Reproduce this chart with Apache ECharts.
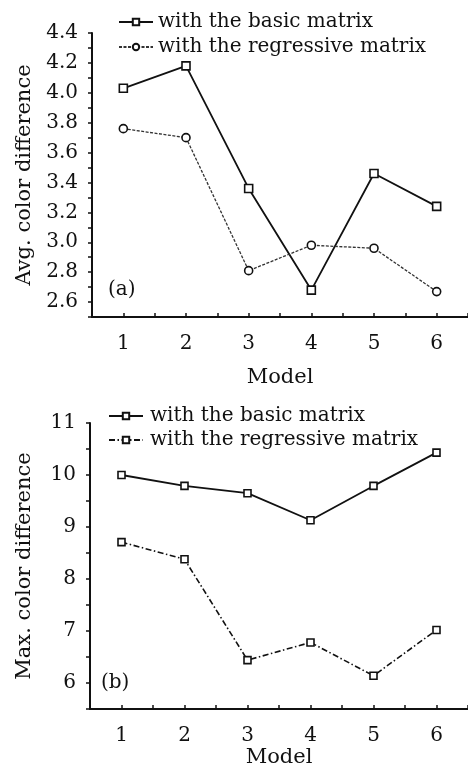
<!DOCTYPE html>
<html>
<head>
<meta charset="utf-8">
<script src="https://cdn.jsdelivr.net/npm/echarts@6/dist/echarts.min.js"></script>
<style>
html, body { margin: 0; padding: 0; background: #fff; overflow: hidden; }
#chart { width: 468px; height: 774px; }
</style>
</head>
<body>
<div id="chart"></div>
<script>
var models = [1, 2, 3, 4, 5, 6]
var avgBasic = [4.03, 4.18, 3.36, 2.68, 3.46, 3.24]
var avgRegressive = [3.76, 3.70, 2.81, 2.98, 2.96, 2.67]
var maxBasic = [10.0, 9.79, 9.65, 9.13, 9.79, 10.43]
var maxRegressive = [8.71, 8.38, 6.44, 6.78, 6.14, 7.02]
var avgTicks = ['2.6', '2.8', '3.0', '3.2', '3.4', '3.6', '3.8', '4.0', '4.2', '4.4']
var maxTicks = ['6', '7', '8', '9', '10', '11']
var modelTicks = ['1', '2', '3', '4', '5', '6']
var legendNames = {
  aBasic: 'with the basic matrix',
  aReg: 'with the regressive matrix',
  bBasic: 'with the basic matrix',
  bReg: 'with the regressive matrix'
}

var FONT = 'DejaVu Serif'
var INK = '#111'

function pairs (ys) {
  return models.map(function (m, i) { return [m, ys[i]] })
}

function xAxis (gridIndex, nameGap) {
  return {
    gridIndex: gridIndex,
    type: 'value',
    min: 0.5,
    max: 6.5,
    interval: 0.5,
    name: 'Model',
    nameLocation: 'middle',
    nameGap: nameGap,
    nameTextStyle: { fontFamily: FONT, fontSize: 21, color: INK },
    axisLine: { lineStyle: { color: INK, width: 2 } },
    axisTick: { inside: true, length: 4, lineStyle: { color: INK, width: 1.5 } },
    axisLabel: {
      fontFamily: FONT, fontSize: 20, color: INK, margin: 17,
      formatter: function (v) {
        var s = String(v)
        return modelTicks.indexOf(s) >= 0 ? s : ''
      }
    },
    splitLine: { show: false }
  }
}

var chart = echarts.init(document.getElementById('chart'))
chart.setOption({
  animation: false,
  backgroundColor: '#fff',
  title: [
    { text: '(a)', left: 103, top: 275, textStyle: { fontFamily: FONT, fontSize: 20, fontWeight: 'normal', color: INK } },
    { text: '(b)', left: 96, top: 668, textStyle: { fontFamily: FONT, fontSize: 20, fontWeight: 'normal', color: INK } }
  ],
  legend: [
    {
      data: ['aBasic', 'aReg'],
      orient: 'vertical',
      left: 118,
      top: 12,
      padding: 0,
      itemWidth: 34,
      itemHeight: 8,
      itemGap: 5,
      formatter: function (n) { return legendNames[n] },
      textStyle: { fontFamily: FONT, fontSize: 20, color: INK },
      selectedMode: false
    },
    {
      data: ['bBasic', 'bReg'],
      orient: 'vertical',
      left: 108,
      top: 406,
      padding: 0,
      itemWidth: 34,
      itemHeight: 8,
      itemGap: 4,
      formatter: function (n) { return legendNames[n] },
      textStyle: { fontFamily: FONT, fontSize: 20, color: INK, padding: [0, 0, 0, 2] },
      selectedMode: false
    }
  ],
  grid: [
    { left: 92, width: 376, top: 33, height: 284, outerBoundsMode: 'none' },
    { left: 90, width: 378, top: 423, height: 286, outerBoundsMode: 'none' }
  ],
  xAxis: [xAxis(0, 50), xAxis(1, 38)],
  yAxis: [
    {
      gridIndex: 0,
      type: 'value',
      min: 2.5,
      max: 4.4,
      interval: 0.1,
      name: 'Avg. color difference',
      nameLocation: 'middle',
      nameGap: 57,
      nameTextStyle: { fontFamily: FONT, fontSize: 21, color: INK },
      axisLine: { show: true, lineStyle: { color: INK, width: 2 } },
      axisTick: { show: true, length: 4, lineStyle: { color: INK, width: 1.5 } },
      axisLabel: {
        fontFamily: FONT, fontSize: 20, color: INK, margin: 14,
        formatter: function (v) {
          var s = v.toFixed(1)
          return avgTicks.indexOf(s) >= 0 ? s : ''
        }
      },
      splitLine: { show: false }
    },
    {
      gridIndex: 1,
      type: 'value',
      min: 5.5,
      max: 11,
      interval: 0.5,
      name: 'Max. color difference',
      nameLocation: 'middle',
      nameGap: 55,
      nameTextStyle: { fontFamily: FONT, fontSize: 21, color: INK },
      axisLine: { show: true, lineStyle: { color: INK, width: 2 } },
      axisTick: { show: true, length: 4, lineStyle: { color: INK, width: 1.5 } },
      axisLabel: {
        fontFamily: FONT, fontSize: 20, color: INK, margin: 14,
        formatter: function (v) {
          var s = String(v)
          return maxTicks.indexOf(s) >= 0 ? s : ''
        }
      },
      splitLine: { show: false }
    }
  ],
  series: [
    {
      name: 'aBasic', type: 'line', xAxisIndex: 0, yAxisIndex: 0,
      data: pairs(avgBasic),
      symbol: 'rect', symbolSize: 8,
      itemStyle: { color: '#fff', borderColor: INK, borderWidth: 1.6 },
      lineStyle: { color: INK, width: 1.8, type: 'solid' }
    },
    {
      name: 'aReg', type: 'line', xAxisIndex: 0, yAxisIndex: 0,
      data: pairs(avgRegressive),
      symbol: 'circle', symbolSize: 8,
      itemStyle: { color: '#fff', borderColor: INK, borderWidth: 1.6 },
      lineStyle: { color: '#333', width: 1.3, type: [3, 1.5] }
    },
    {
      name: 'bBasic', type: 'line', xAxisIndex: 1, yAxisIndex: 1,
      data: pairs(maxBasic),
      symbol: 'rect', symbolSize: 7,
      itemStyle: { color: '#fff', borderColor: INK, borderWidth: 1.6 },
      lineStyle: { color: INK, width: 1.8, type: 'solid' }
    },
    {
      name: 'bReg', type: 'line', xAxisIndex: 1, yAxisIndex: 1,
      data: pairs(maxRegressive),
      symbol: 'rect', symbolSize: 7,
      itemStyle: { color: '#fff', borderColor: INK, borderWidth: 1.6 },
      lineStyle: { color: INK, width: 1.6, type: [6, 2.5, 1.5, 2.5] }
    }
  ]
})
</script>
</body>
</html>
